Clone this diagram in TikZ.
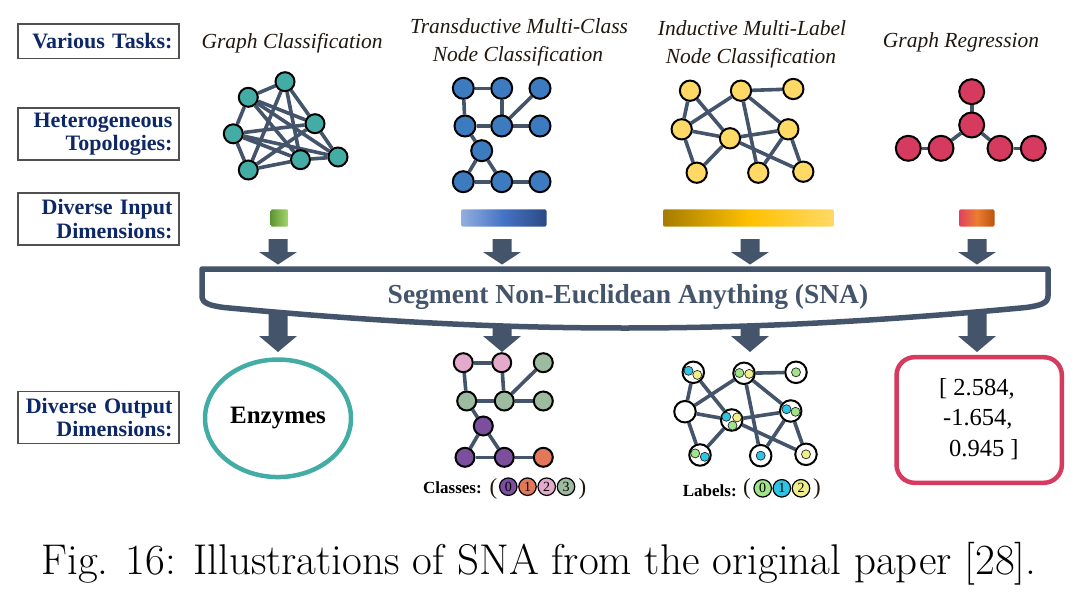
\documentclass[tikz,border=0pt]{standalone}
\usepackage{fontspec}
\newfontfamily\tnr{Liberation Serif}
\usetikzlibrary{shapes.geometric}
\definecolor{slate}{HTML}{44546A}
\definecolor{navy}{HTML}{0E2766}
\definecolor{boxgray}{HTML}{505050}
\definecolor{titlec}{HTML}{201810}
\definecolor{tealn}{HTML}{43ADA5}
\definecolor{bluen}{HTML}{3C7BC0}
\definecolor{goldn}{HTML}{FFD966}
\definecolor{redn}{HTML}{D63A5F}
\definecolor{ppl}{HTML}{7B4F9E}
\definecolor{orn}{HTML}{E2775A}
\definecolor{pnk}{HTML}{E4AACB}
\definecolor{sage}{HTML}{9DBB9F}
\definecolor{cyn}{HTML}{2EC4E6}
\definecolor{ylw}{HTML}{F0EE8A}
\definecolor{grn}{HTML}{A0E38A}
\definecolor{gA}{HTML}{5E9636}
\definecolor{gB}{HTML}{A6D66C}
\definecolor{bA}{HTML}{93AEDF}
\definecolor{bB}{HTML}{4472C4}
\definecolor{bC}{HTML}{2C4A84}
\definecolor{yA}{HTML}{A67C00}
\definecolor{yB}{HTML}{FFC000}
\definecolor{yC}{HTML}{FFD966}
\definecolor{rA}{HTML}{E0405F}
\definecolor{rB}{HTML}{ED7D31}
\definecolor{rC}{HTML}{B85410}
\pgfdeclarelayer{bg}
\pgfsetlayers{bg,main}
\tikzset{
  lbox/.style={draw=boxgray, line width=1.5pt, text width=148pt, align=right,
    inner xsep=6.5pt, inner ysep=0pt, text=navy,
    font=\tnr\bfseries\fontsize{22}{23.5}\selectfont},
  ttl/.style={font=\tnr\itshape\fontsize{21.5}{26}\selectfont, text=titlec, inner sep=0pt, anchor=base},
  gn/.style={circle, draw=black, line width=2pt, inner sep=0pt, minimum size=#1},
  gn/.default=20,
  ge/.style={draw=slate, line width=3.6pt},
  dotn/.style={circle, draw=black!85, line width=0.7pt, inner sep=0pt, minimum size=9},
  lc/.style={circle, draw=black, line width=1.2pt, inner sep=0pt, minimum size=17.5,
    font=\tnr\fontsize{14}{14}\selectfont},
  inbar/.style={rectangle, rounded corners=2pt, inner sep=0pt, minimum height=17.4},
  legtxt/.style={font=\tnr\bfseries\fontsize{17}{17}\selectfont, inner sep=0pt, anchor=base west},
  paren/.style={font=\tnr\fontsize{23}{23}\selectfont, text=titlec, inner sep=0pt},
  numtxt/.style={font=\tnr\fontsize{24.5}{30}\selectfont, inner sep=0pt, anchor=base west},
  toparrow/.pic={\fill[slate] (-9.5,0) -- (9.5,0) -- (9.5,13) -- (19,13) -- (0,25.5) -- (-19,13) -- (-9.5,13) -- cycle;},
  botarrow/.pic={\fill[slate] (-9.5,0) -- (9.5,0) -- (9.5,36) -- (19,36) -- (0,52) -- (-19,36) -- (-9.5,36) -- cycle;}
}
\begin{document}
\begin{tikzpicture}[x=1pt,y=-1pt]
\path[use as bounding box] (0,0) rectangle (1080,597);

% ---------- left label boxes ----------
\node[lbox, minimum height=34.3] (lab1) at (98.5,41.2) {Various Tasks:};
\node[lbox, minimum height=52] (lab2) at (98.5,134) {Heterogeneous\\Topologies:};
\node[lbox, minimum height=52] (lab3) at (98.5,218.8) {Diverse Input\\Dimensions:};
\node[lbox, minimum height=51.7] (lab4) at (98.5,417.5) {Diverse Output\\Dimensions:};

% ---------- task titles ----------
\node[ttl] (tt1) at (292,48) {Graph Classification};
\node[ttl] (tt2a) at (519,33) {Transductive Multi-Class};
\node[ttl] (tt2b) at (518,61) {Node Classification};
\node[ttl] (tt3a) at (752,35) {Inductive Multi-Label};
\node[ttl] (tt3b) at (751,63) {Node Classification};
\node[ttl] (tt4) at (961,47) {Graph Regression};

% ---------- graph 1 ----------
\foreach \n/\x/\y in {a/285/81.7, b/248.3/97.3, c/315/123.7, d/233.3/133.8, e/300.5/159.7, f/338/157, g/248.3/170}
  \node[gn=19, fill=tealn] (g1\n) at (\x,\y) {};
\begin{pgfonlayer}{bg}
\foreach \u/\v in {a/b, a/c, a/g, a/e, b/d, b/c, b/e, b/f, d/g, d/c, d/f, d/e, g/e, g/c, e/f, c/f}
  \draw[ge] (g1\u) -- (g1\v);
\end{pgfonlayer}

% ---------- graph 2 ----------
\foreach \n/\x/\y in {1/463.3/88.3, 2/501.7/88.3, 3/540/88.3, 4/465/126, 5/501.7/126, 6/540/126, 7/481.7/150.7, 8/463.3/181.7, 9/501.7/181.7, 10/540/181.7}
  \node[gn=21, fill=bluen] (t\n) at (\x,\y) {};
\begin{pgfonlayer}{bg}
\foreach \u/\v in {1/2, 1/4, 2/5, 3/5, 4/5, 5/6, 4/7, 7/8, 7/9, 8/9, 9/10}
  \draw[ge] (t\u) -- (t\v);
\end{pgfonlayer}

% ---------- graph 3 ----------
\foreach \n/\x/\y in {1/690/90.7, 2/741/90.7, 3/793.3/89, 4/681.7/129.3, 5/730/138.3, 6/788.3/129.3, 7/696.7/172.7, 8/758.3/172.7, 9/803.3/171.7}
  \node[gn=20.3, fill=goldn] (i\n) at (\x,\y) {};
\begin{pgfonlayer}{bg}
\foreach \u/\v in {1/4, 1/5, 2/3, 2/4, 2/8, 2/6, 4/5, 4/7, 5/7, 5/6, 5/9, 6/8, 6/9}
  \draw[ge] (i\u) -- (i\v);
\end{pgfonlayer}

% ---------- graph 4 ----------
\foreach \n/\x/\y in {1/971.7/91.7, 2/971.7/125, 3/908.3/148.3, 4/941/148.3, 5/1000/148.3, 6/1033.3/148.3}
  \node[gn=25, fill=redn] (r\n) at (\x,\y) {};
\begin{pgfonlayer}{bg}
\foreach \u/\v in {1/2, 2/4, 2/5, 3/4, 5/6}
  \draw[ge] (r\u) -- (r\v);
\end{pgfonlayer}

% ---------- input bars ----------
\node[inbar, minimum width=17.6, left color=gA, right color=gB] (in1) at (279.5,218) {};
\node[inbar, minimum width=85.5, left color=bA, right color=bC, middle color=bB] (in2) at (503.8,218) {};
\node[inbar, minimum width=171, left color=yA, right color=yC, middle color=yB] (in3) at (748.5,218) {};
\node[inbar, minimum width=35.5, left color=rA, right color=rC, middle color=rB] (in4) at (976.8,218) {};

% ---------- arrows ----------
\foreach \x in {278,502,750,977} {
  \pic at (\x,239) {toparrow};
  \pic at (\x,300) {botarrow};
}

% ---------- SNA bar ----------
\draw[slate, line width=5.5pt, fill=white, line join=round]
  (202,269) -- (1048,269) -- (1048,296)
  .. controls (1048,303) and (1041,305.5) .. (1026,307.5)
  .. controls (860,323) and (740,328) .. (625,328)
  .. controls (510,328) and (390,323) .. (224,307.5)
  .. controls (209,305.5) and (202,303) .. (202,296) -- cycle;
\node[font=\tnr\bfseries\fontsize{27.5}{30}\selectfont, text=slate, inner sep=0pt, anchor=base] (sna) at (628,303.3) {Segment Non-Euclidean Anything (SNA)};

% ---------- output 1 ----------
\node[ellipse, draw=tealn, line width=4.5pt, minimum width=146, minimum height=117.5, inner sep=0pt,
  font=\tnr\bfseries\fontsize{25}{25}\selectfont] (enz) at (278,418.3) {Enzymes};

% ---------- output 2: classes ----------
\foreach \n/\x/\y/\c in {1/463.3/362.7/pnk, 2/501.7/362.7/pnk, 3/543.3/362.7/sage, 4/466.7/401/sage, 5/504.3/401/sage, 6/543.3/401/sage, 7/483.3/426/ppl, 8/465/457.3/ppl, 9/504.3/457.3/ppl, 10/543.3/457.3/orn}
  \node[gn=19, fill=\c] (c\n) at (\x,\y) {};
\begin{pgfonlayer}{bg}
\foreach \u/\v in {1/2, 1/4, 2/5, 3/5, 4/5, 5/6, 4/7, 7/8, 7/9, 8/9, 9/10}
  \draw[ge] (c\u) -- (c\v);
\end{pgfonlayer}
\node[legtxt] (clab) at (423,493.3) {Classes:};
\node[paren] (cpl) at (493.5,488.5) {(};
\node[lc, fill=ppl] (k0) at (508.3,486.7) {0};
\node[lc, fill=orn] (k1) at (527.5,486.7) {1};
\node[lc, fill=pnk] (k2) at (546.7,486.7) {2};
\node[lc, fill=sage] (k3) at (566,486.7) {3};
\node[paren] (cpr) at (582.5,488.5) {)};

% ---------- output 3: labels ----------
\foreach \n/\x/\y in {1/693.3/372.3, 2/744/373.3, 3/796/372.3, 4/685/411.7, 5/731.7/420, 6/790.7/411, 7/700/455, 8/760.7/455.7, 9/806/454.3}
  \node[gn=21.5, fill=white] (l\n) at (\x,\y) {};
\begin{pgfonlayer}{bg}
\foreach \u/\v in {1/4, 1/5, 2/3, 2/4, 2/8, 2/6, 4/5, 4/7, 5/7, 5/6, 5/9, 6/8, 6/9}
  \draw[ge] (l\u) -- (l\v);
\end{pgfonlayer}
\node[dotn, fill=cyn] (l1a) at ([shift={(-4.8,-1.5)}]l1) {};
\node[dotn, fill=ylw] (l1b) at ([shift={(4,2.6)}]l1) {};
\node[dotn, fill=grn] (l2a) at ([shift={(-4.6,-0.3)}]l2) {};
\node[dotn, fill=ylw] (l2b) at ([shift={(5.2,0.6)}]l2) {};
\node[dotn, fill=grn] (l3a) at (l3) {};
\node[dotn, fill=cyn] (l5a) at ([shift={(-5.4,-3.2)}]l5) {};
\node[dotn, fill=ylw] (l5b) at ([shift={(5.4,-2.6)}]l5) {};
\node[dotn, fill=grn] (l5c) at ([shift={(0.8,5.6)}]l5) {};
\node[dotn, fill=cyn] (l6a) at ([shift={(-4.2,-1.8)}]l6) {};
\node[dotn, fill=grn] (l6b) at ([shift={(4.8,0.8)}]l6) {};
\node[dotn, fill=grn] (l7a) at ([shift={(-4.8,-1.6)}]l7) {};
\node[dotn, fill=cyn] (l7b) at ([shift={(4.8,1.8)}]l7) {};
\node[dotn, fill=cyn] (l8a) at (l8) {};
\node[dotn, fill=ylw] (l9a) at (l9) {};
\node[legtxt] (llab) at (682.7,496) {Labels:};
\node[paren] (lpl) at (747,488.5) {(};
\node[lc, fill=grn] (m0) at (762.7,488.3) {0};
\node[lc, fill=cyn] (m1) at (781.8,488.3) {1};
\node[lc, fill=ylw] (m2) at (801,488.3) {2};
\node[paren] (lpr) at (817,488.5) {)};

% ---------- output 4: regression ----------
\node[rectangle, rounded corners=18pt, draw=redn, line width=4.5pt, minimum width=165.3, minimum height=125.6, inner sep=0pt] (reg) at (979.2,420) {};
\node[numtxt] (v1) at (939,395) {[ 2.584,};
\node[numtxt] (v2) at (943,425.5) {-1.654,};
\node[numtxt] (v3) at (949,456) {0.945 ]};

% ---------- caption ----------
\node[font=\fontsize{43}{50}\selectfont, inner sep=0pt, anchor=base] (cap) at (539,574) {Fig. 16: Illustrations of SNA from the original paper [28].};
\end{tikzpicture}
\end{document}
